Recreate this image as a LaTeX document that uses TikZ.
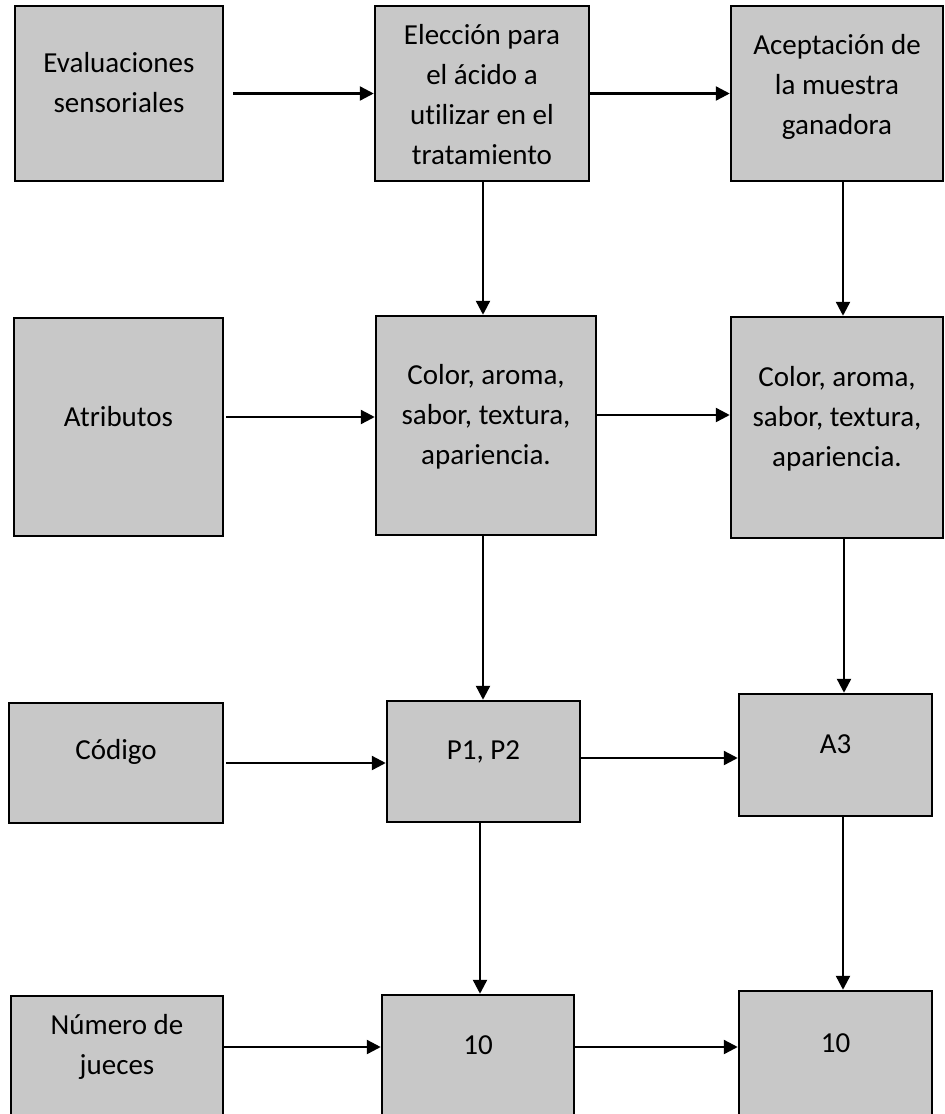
\documentclass[tikz,border=0pt]{standalone}
\usepackage{fontspec}
\setmainfont{Carlito}[Ligatures=NoCommon]
\usetikzlibrary{arrows.meta}
\definecolor{grisclaro}{RGB}{200,200,200}
\tikzset{
  caja/.style={rectangle, draw=black, fill=grisclaro, line width=2.5pt, inner sep=0pt},
  texto/.style={align=center, inner sep=0pt, font=\fontsize{29}{40}\selectfont},
  flecha/.style={line width=2.4pt, -{Triangle[length=14pt, width=14pt]}},
}

\begin{document}
\begin{tikzpicture}[x=1pt, y=-1pt]
  \useasboundingbox (0,0) rectangle (945,1114);

  % fila 1
  \node[caja, minimum width=208pt, minimum height=175pt] (eval)  at (119,93.5) {};
  \node[caja, minimum width=214pt, minimum height=175pt] (elec)  at (482,93.5) {};
  \node[caja, minimum width=212pt, minimum height=175pt] (acept) at (837,93.5) {};
  \node[texto] (evalT)  at ([yshift=10.5pt]eval.center) {Evaluaciones\\sensoriales};
  \node[texto] (elecT)  at ([yshift=-1.5pt]elec.center) {Elección para\\el ácido a\\utilizar en el\\tratamiento};
  \node[texto] (aceptT) at ([yshift=7pt]acept.center)   {Aceptación de\\la muestra\\ganadora};

  % fila 2
  \node[caja, minimum width=209pt, minimum height=218pt] (atrib)  at (118.5,427) {};
  \node[caja, minimum width=220pt, minimum height=219pt] (color1) at (486,425.5) {};
  \node[caja, minimum width=212pt, minimum height=221pt] (color2) at (837,427.5) {};
  \node[texto] (atribT)  at ([yshift=10pt]atrib.center)   {Atributos};
  \node[texto] (color1T) at ([yshift=8.5pt]color1.center) {Color, aroma,\\sabor, textura,\\apariencia.};
  \node[texto] (color2T) at ([yshift=8.5pt]color2.center) {Color, aroma,\\sabor, textura,\\apariencia.};

  % fila 3
  \node[caja, minimum width=214pt, minimum height=120pt] (codigo) at (116,763) {};
  \node[caja, minimum width=193pt, minimum height=121pt] (pp)     at (483.5,761.5) {};
  \node[caja, minimum width=193pt, minimum height=122pt] (atres)  at (835.5,755) {};
  \node[texto] (codigoT) at ([yshift=11pt]codigo.center) {Código};
  \node[texto] (ppT)     at ([yshift=9.5pt]pp.center)    {P1, P2};
  \node[texto] (atresT)  at ([yshift=11pt]atres.center)  {A3};

  % fila 4
  \node[caja, minimum width=212pt, minimum height=122pt] (jueces) at (117,1057) {};
  \node[caja, minimum width=192pt, minimum height=123pt] (diez1)  at (478,1056.5) {};
  \node[caja, minimum width=193pt, minimum height=127pt] (diez2)  at (835.5,1054.5) {};
  \node[texto] (juecesT) at ([yshift=10pt]jueces.center)  {Número de\\jueces};
  \node[texto] (diez1T)  at ([yshift=11.5pt]diez1.center) {10};
  \node[texto] (diez2T)  at ([yshift=11.5pt]diez2.center) {10};

  % flechas horizontales
  \draw[flecha] ([xshift=9pt]eval.east) -- (elec.west);
  \draw[flecha] (elec.east) -- (acept.west);
  \draw[flecha] ([xshift=2pt,yshift=10pt]atrib.east) -- ([yshift=10pt]atrib.east -| color1.west);
  \draw[flecha] ([yshift=10.5pt]color1.east) -- ([yshift=10.5pt]color1.east -| color2.west);
  \draw[flecha] ([xshift=2pt]codigo.east) -- (codigo.east -| pp.west);
  \draw[flecha] ([yshift=3.5pt]pp.east) -- ([yshift=3.5pt]pp.east -| atres.west);
  \draw[flecha] ([yshift=10pt]jueces.east) -- ([yshift=10pt]jueces.east -| diez1.west);
  \draw[flecha] ([yshift=9.5pt]diez1.east) -- ([yshift=9.5pt]diez1.east -| diez2.west);

  % flechas verticales
  \draw[flecha] ([xshift=1pt]elec.south) -- ([xshift=1pt]elec.south |- color1.north);
  \draw[flecha] ([xshift=6pt]acept.south) -- ([xshift=6pt]acept.south |- color2.north);
  \draw[flecha] ([xshift=-3pt]color1.south) -- ([xshift=-3pt]color1.south |- pp.north);
  \draw[flecha] ([xshift=7pt]color2.south) -- ([xshift=7pt]color2.south |- atres.north);
  \draw[flecha] ([xshift=-3.5pt]pp.south) -- ([xshift=-3.5pt]pp.south |- diez1.north);
  \draw[flecha] ([xshift=7.5pt]atres.south) -- ([xshift=7.5pt]atres.south |- diez2.north);
\end{tikzpicture}
\end{document}
